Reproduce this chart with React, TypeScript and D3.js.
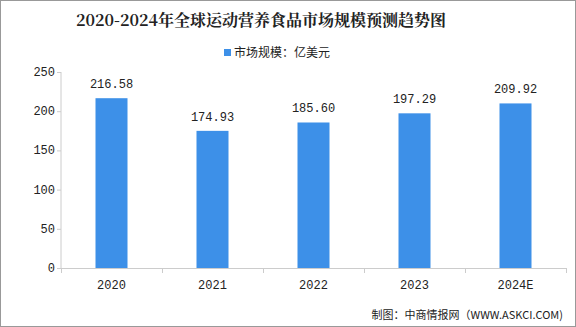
import React from "react";
import * as d3 from "d3";

const categories = ["2020", "2021", "2022", "2023", "2024E"];
const values = [216.58, 174.93, 185.6, 197.29, 209.92];
const yTicks = [0, 50, 100, 150, 200, 250];
const title = "2020-2024年全球运动营养食品市场规模预测趋势图";
const legendLabel = "市场规模：亿美元";
const footer = "制图：中商情报网（WWW.ASKCI.COM)";

const W = 576;
const H = 327;
const left = 61;
const right = 566;
const top = 72;
const bottom = 268;
const mono = "'Liberation Mono', 'DejaVu Sans Mono', monospace";
const cjk = "'Noto Sans CJK SC', sans-serif";

export default function App() {
  const x = d3.scaleBand<string>().domain(categories).range([left, right]).paddingInner(0).paddingOuter(0);
  const y = d3.scaleLinear().domain([0, 250]).range([bottom, top]);
  const bw = 32;
  const color = "#3d90e8";
  return (
    <svg width={W} height={H} style={{ position: "absolute", left: 0, top: 0, background: "#fff" }}>
      <rect x={0.5} y={0.5} width={W - 1} height={H - 1} fill="#fff" stroke="#999" />
      <text x={261} y={26} textAnchor="middle" fontFamily="'Noto Serif CJK SC', 'Noto Sans CJK SC', serif"
        fontWeight="bold" fontSize={16} fill="#222">{title}</text>
      <rect x={224} y={49} width={7} height={7} fill={color} />
      <text x={234} y={57} fontFamily={cjk} fontSize={12} fill="#222">{legendLabel}</text>
      <line x1={left} x2={left} y1={top} y2={bottom} stroke="#ccc" />
      <line x1={left} x2={right} y1={bottom + 0.5} y2={bottom + 0.5} stroke="#ccc" />
      {yTicks.map((t) => (
        <g key={t}>
          <line x1={left - 4} x2={left} y1={y(t) + 0.5} y2={y(t) + 0.5} stroke="#ccc" />
          <text x={left - 6} y={y(t) + 4} textAnchor="end" fontFamily={mono} fontSize={12} fill="#222">{t}</text>
        </g>
      ))}
      {categories.map((c) => (
        <line key={c} x1={(x(c) as number) + 0.5} x2={(x(c) as number) + 0.5} y1={bottom} y2={bottom + 5} stroke="#ccc" />
      ))}
      <line x1={right + 0.5} x2={right + 0.5} y1={bottom} y2={bottom + 5} stroke="#ccc" />
      {categories.map((c, i) => {
        const cx = (x(c) as number) + x.bandwidth() / 2;
        return (
          <g key={c}>
            <rect x={cx - bw / 2} y={y(values[i])} width={bw} height={bottom - y(values[i])} fill={color} />
            <text x={cx} y={y(values[i]) - 10} textAnchor="middle" fontFamily={mono} fontSize={12} fill="#222">
              {values[i].toFixed(2)}
            </text>
            <text x={cx} y={289} textAnchor="middle" fontFamily={mono} fontSize={12} fill="#222">{c}</text>
          </g>
        );
      })}
      <text x={563} y={319} textAnchor="end" fontFamily={cjk} fontSize={11} fill="#222">{footer}</text>
    </svg>
  );
}
